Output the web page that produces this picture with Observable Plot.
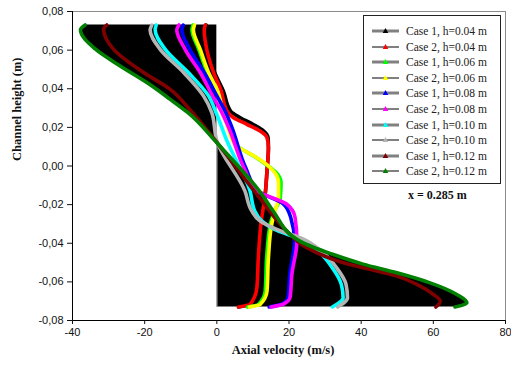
<!DOCTYPE html>
<html><head><meta charset="utf-8">
<script src="https://cdn.jsdelivr.net/npm/d3@7"></script>
<script src="https://cdn.jsdelivr.net/npm/@observablehq/plot@0.6"></script>
<style>
body{margin:0;background:#fff;}
#wrap{position:relative;width:511px;height:367px;overflow:hidden;}
#legend{position:absolute;left:363px;top:15px;width:138px;height:169px;border:1px solid #222;background:#fff;box-sizing:border-box;font-family:"Liberation Serif",serif;font-size:11.5px;color:#222;}
.ent{position:absolute;left:0;height:14px;width:138px;}
.ent svg{position:absolute;left:8px;top:0;}
.ent span{position:absolute;left:42px;top:0px;line-height:14px;white-space:nowrap;}
#xnote{position:absolute;left:408px;top:188px;font-family:"Liberation Serif",serif;font-weight:bold;font-size:12px;color:#111;}
</style></head>
<body><div id="wrap"><div id="chart"></div><div id="legend"></div><div id="xnote">x = 0.285 m</div></div>
<script>
// ---- data (u = axial velocity m/s, y = channel height m) ----
const seriesNames = ["Case 1, h=0.04 m","Case 2, h=0.04 m","Case 1, h=0.06 m","Case 2, h=0.06 m","Case 1, h=0.08 m","Case 2, h=0.08 m","Case 1, h=0.10 m","Case 2, h=0.10 m","Case 1, h=0.12 m","Case 2, h=0.12 m"];
const seriesColors = ["#000000","#ff0000","#00ff00","#ffff00","#0000ff","#ff00ff","#00ffff","#b4b4b4","#800000","#008000"];

const y_h04 = [0.073,0.0705,0.0604,0.0484,0.0389,0.0285,0.025,0.0216,0.0181,0.0147,0.0095,-0.0026,-0.0147,-0.0302,-0.0475,-0.063,-0.0717,-0.073];
const u_c1h04 = [-3.0,-3.3,-2.5,-0.6,1.8,3.8,6.5,10.0,13.0,14.2,14.3,13.9,13.4,12.2,11.5,11.1,9.2,6];
const u_c2h04 = [-3.2,-3.5,-2.8,-0.9,1.2,2.8,4.6,8.3,12.0,13.9,14.3,13.9,13.4,12.2,11.5,11.1,9.2,6];

const y_h06 = [0.073,0.0705,0.0604,0.0484,0.0389,0.0276,0.0216,0.0112,0.0043,0.0,-0.0035,-0.0087,-0.0164,-0.0233,-0.0302,-0.0475,-0.0648,-0.0717,-0.073];
const u_c1h06 = [-6.6,-6.9,-5.0,-2.6,0.0,2.0,3.5,5.3,11.0,14.2,16.5,17.8,17.6,16.0,14.8,13.8,13.4,11.5,8.5];
const u_c2h06 = [-6.2,-6.5,-4.6,-2.3,0.2,1.8,2.8,5.1,11.1,14.3,16.1,17.1,17.1,16.1,15.2,14.3,13.9,12.0,9];

const y_h08 = [0.073,0.0705,0.0604,0.0484,0.0363,0.0276,0.0198,-0.0009,-0.013,-0.0198,-0.0268,-0.0389,-0.0561,-0.068,-0.0715,-0.073];
const u_c1h08 = [-9.3,-9.7,-7.5,-3.5,0.0,2.5,4.2,8.0,11.5,18.5,20.5,21.5,20.2,19.7,18.0,14.5];
const u_c2h08 = [-10.5,-11.1,-8.8,-4.6,-1.2,1.4,3.3,7.5,11.2,19.4,21.7,22.2,20.8,20.3,18.5,15];

const y_h10 = [0.073,0.0705,0.0604,0.0484,0.0363,0.0276,0.013,-0.013,-0.0233,-0.0285,-0.0328,-0.0371,-0.0449,-0.0527,-0.0613,-0.0682,-0.073];
const u_c1h10 = [-16.8,-17.1,-14.3,-7.9,-2.3,-0.2,2.8,9.2,10.5,12.5,16.0,22.0,28.5,32.0,34.5,35.0,32];
const u_c2h10 = [-18.0,-18.5,-15.7,-9.2,-3.7,-1.4,0.0,7.8,9.7,12.0,16.6,23.1,29.5,33.2,35.8,36.2,33.5];

const y_c1h12 = [0.073,0.0708,0.0604,0.0484,0.0397,0.029,0.0122,-0.0181,-0.0337,-0.0423,-0.0501,-0.0527,-0.057,-0.0613,-0.0665,-0.07,-0.073];
const u_c1h12 = [-30.5,-31.4,-28.6,-20.3,-12.9,-7.4,0.0,12.5,19.4,24.9,35.1,40.6,49.9,55.4,60.0,61.9,60.7];
const y_c2h12 = [0.073,0.0705,0.0606,0.0518,0.0432,0.0345,0.0276,0.012,-0.0147,-0.0233,-0.039,-0.0456,-0.0508,-0.0553,-0.0605,-0.0665,-0.0708,-0.073];
const u_c2h12 = [-36.5,-37.8,-33.7,-26.8,-19.4,-12.9,-8.0,0.0,12.5,15.6,23.1,31.9,40.5,49.9,59.1,66.5,69.3,66];

const xTicks = [-40,-20,0,20,40,60,80];
const yTicks = [-0.08,-0.06,-0.04,-0.02,0,0.02,0.04,0.06,0.08];

// ---- build table ----
const seriesU = [u_c1h04,u_c2h04,u_c1h06,u_c2h06,u_c1h08,u_c2h08,u_c1h10,u_c2h10,u_c1h12,u_c2h12];
const seriesY = [y_h04,y_h04,y_h06,y_h06,y_h08,y_h08,y_h10,y_h10,y_c1h12,y_c2h12];
const rows = [];
seriesNames.forEach((name,i)=>seriesU[i].forEach((u,j)=>rows.push({name, idx:i, u, y:seriesY[i][j]})));
const envelope = rows.filter(r=>r.idx===9);

const fmtY = d => d.toFixed(2).replace(".", ",");
const fmtX = d => String(d);

const marks = [
  Plot.frame({stroke:"#8a8a8a"}),
  Plot.areaX(envelope, {x1:0, x2:"u", y:"y", fill:"#000", curve:"monotone-y"}),
  Plot.ruleX([0], {y1: envelope[7].y, y2: envelope[envelope.length-1].y, stroke:"#c0c0c0", strokeWidth:1.2}),
];
seriesNames.forEach((name,i)=>{
  marks.push(Plot.line(rows.filter(r=>r.idx===i), {x:"u", y:"y", stroke:seriesColors[i], strokeWidth:3.6, curve:"monotone-y"}));
});
marks.push(
  Plot.ruleX([-40], {stroke:"#000"}),
  Plot.ruleY([-0.08], {stroke:"#000"}),
  Plot.axisX({ticks:xTicks, tickSize:4, tickPadding:4, tickFormat:fmtX, label:null, fontSize:11}),
  Plot.axisY({ticks:yTicks, tickSize:5, tickPadding:4, tickFormat:fmtY, label:null, fontSize:11}),
  Plot.text(["Axial velocity (m/s)"], {frameAnchor:"bottom", dx:-6, dy:33, fontFamily:"Liberation Serif", fontWeight:"bold", fontSize:12.5}),
  Plot.text(["Channel height (m)"], {frameAnchor:"left", dx:-56, dy:-5, rotate:-90, fontFamily:"Liberation Serif", fontWeight:"bold", fontSize:12.5})
);

const chart = Plot.plot({
  width:511, height:367,
  marginLeft:72, marginRight:6, marginTop:11, marginBottom:47,
  x:{domain:[-40,80]},
  y:{domain:[-0.08,0.08]},
  style:{fontFamily:"Liberation Sans, Arial, sans-serif", fontSize:"11px", color:"#111", overflow:"visible"},
  marks
});
document.getElementById("chart").appendChild(chart);

// ---- legend ----
const leg = document.getElementById("legend");
seriesNames.forEach((name,i)=>{
  const d = document.createElement("div");
  d.className = "ent";
  d.style.top = (8 + i*15.6) + "px";
  const case1 = i % 2 === 0;
  d.innerHTML = `<svg width="30" height="14"><line x1="0" x2="27" y1="7" y2="7" stroke="${case1?'#808080':'#000'}" stroke-width="${case1?3:1}"/><path d="M13.5,4 L16.3,9 L10.7,9 Z" fill="${seriesColors[i]}"/></svg><span>${name}</span>`;
  leg.appendChild(d);
});
</script>
</body></html>
